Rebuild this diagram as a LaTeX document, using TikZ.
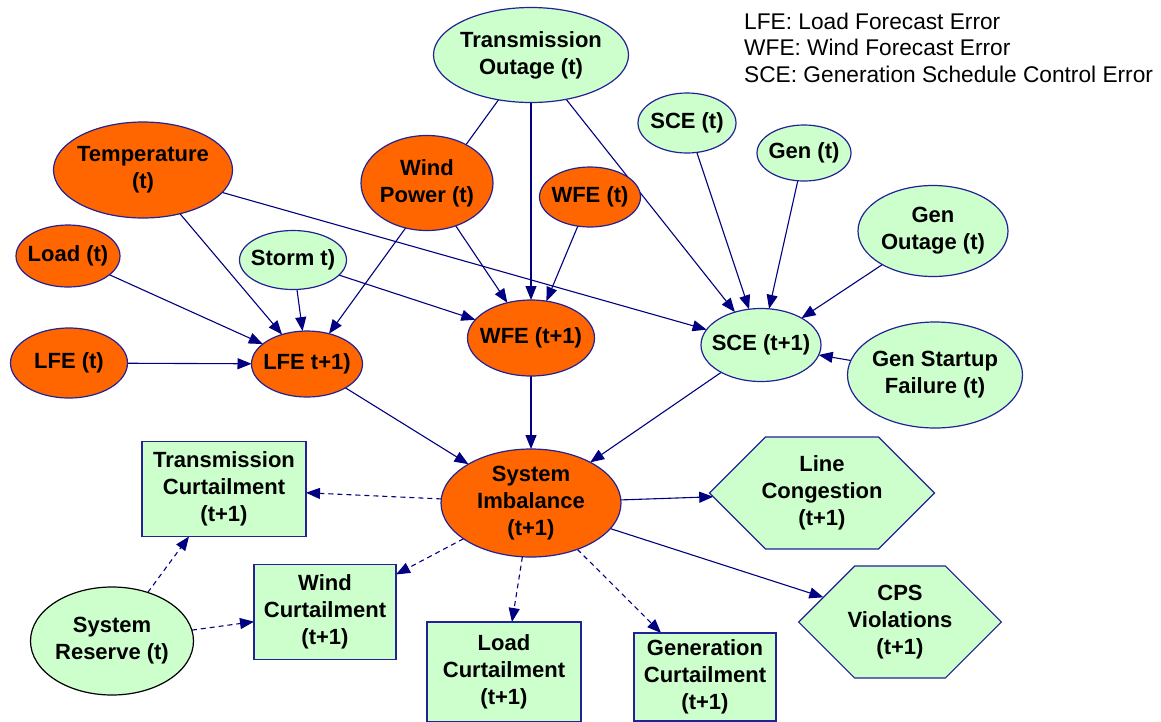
\documentclass[tikz,border=0pt]{standalone}
\usepackage{fontspec}
\setmainfont{Liberation Sans}
\usetikzlibrary{shapes.geometric,shapes.symbols,arrows.meta}
\definecolor{navyline}{RGB}{0,0,128}
\definecolor{nodeedge}{RGB}{34,34,150}
\definecolor{hotorange}{RGB}{255,102,0}
\definecolor{palegreen}{RGB}{204,255,204}
\pgfdeclarelayer{paper}
\pgfdeclarelayer{wires}
\pgfsetlayers{paper,wires,main}
\tikzset{
  lbl/.style={font=\fontsize{22}{27}\selectfont\bfseries, align=center, text=black},
  oval/.style={lbl, ellipse, draw=nodeedge, line width=1.2pt, inner xsep=-12pt, inner ysep=-12pt, outer sep=0pt},
  hot/.style={oval, fill=hotorange},
  cool/.style={oval, fill=palegreen},
  actbox/.style={lbl, rectangle, draw=nodeedge, line width=1.2pt, fill=palegreen, inner sep=0pt, outer sep=0pt},
  hexbox/.style={lbl, signal, signal to=east and west, signal pointer angle=90, draw=nodeedge, line width=1.2pt, fill=palegreen, inner ysep=0pt, outer sep=0pt},
  link/.style={draw=navyline, line width=1.1pt, -{Triangle[length=14pt,width=11pt]}},
  weak/.style={link, dash pattern=on 5pt off 4pt},
  legend/.style={font=\fontsize{22.7}{26}\selectfont, anchor=base west, inner sep=0pt},
}
\begin{document}
\begin{tikzpicture}[x=1pt, y=-1pt]
\begin{pgfonlayer}{paper}
  \fill[white] (0,0) rectangle (1161,721);
\end{pgfonlayer}
\useasboundingbox (0,0) rectangle (1161,721);

% causes at time t
\node[cool, minimum width=195pt, minimum height=95pt] (to) at (531,55) {Transmission\\Outage (t)};
\node[hot, minimum width=179pt, minimum height=96pt] (temp) at (143,170) {Temperature\\(t)};
\node[hot, minimum width=132pt, minimum height=95pt] (wp) at (427,183) {Wind\\Power (t)};
\node[hot, minimum width=101pt, minimum height=60pt] (wfe0) at (590,197) {WFE (t)};
\node[cool, minimum width=98pt, minimum height=60pt] (sce0) at (687,123) {SCE (t)};
\node[cool, minimum width=94pt, minimum height=56pt] (gen) at (804,153) {Gen (t)};
\node[cool, minimum width=150pt, minimum height=91pt] (genout) at (933,231) {Gen\\Outage (t)};
\node[hot, minimum width=104pt, minimum height=62pt] (load) at (68,256) {Load (t)};
\node[cool, minimum width=107pt, minimum height=59pt] (storm) at (293,260) {Storm t)};
\node[hot, minimum width=117pt, minimum height=70pt] (lfe0) at (69,363) {LFE (t)};
\node[cool, minimum width=175pt, minimum height=106pt] (gsf) at (935,375) {Gen Startup\\Failure (t)};
\node[cool, draw=black, minimum width=163pt, minimum height=108pt] (sysres) at (112,641) {System\\Reserve (t)};

% errors at time t+1
\node[hot, minimum width=111pt, minimum height=66pt] (lfe1) at (307,364) {LFE t+1)};
\node[hot, minimum width=127pt, minimum height=76pt] (wfe1) at (531,338) {WFE (t+1)};
\node[cool, minimum width=120pt, minimum height=73pt] (sce1) at (761,345) {SCE (t+1)};
\node[hot, minimum width=180pt, minimum height=108pt] (imb) at (531,503) {System\\Imbalance\\(t+1)};

% actions and consequences
\node[actbox, minimum width=164pt, minimum height=95pt] (transc) at (224,489) {Transmission\\Curtailment\\(t+1)};
\node[actbox, minimum width=142pt, minimum height=95pt] (windc) at (325,612) {Wind\\Curtailment\\(t+1)};
\node[actbox, minimum width=154pt, minimum height=100pt] (loadc) at (504,672) {Load\\Curtailment\\(t+1)};
\node[actbox, minimum width=142pt, minimum height=88pt] (genc) at (705,677) {Generation\\Curtailment\\(t+1)};
\node[hexbox, inner xsep=-4pt, minimum height=112pt] (linec) at (822,493) {Line\\Congestion\\(t+1)};
\node[hexbox, inner xsep=-7pt, minimum height=112pt] (cps) at (900,622) {CPS\\Violations\\(t+1)};

% abbreviations
\node[legend] (legA) at (744,29) {LFE: Load Forecast Error};
\node[legend] (legB) at (744,55) {WFE: Wind Forecast Error};
\node[legend] (legC) at (744,82) {SCE: Generation Schedule Control Error};

\begin{pgfonlayer}{wires}
  \draw[link] (temp) -- (lfe1);
  \draw[link] (temp) -- (sce1);
  \draw[link] (load) -- (lfe1);
  \draw[link] (storm) -- (lfe1);
  \draw[link] (storm) -- (wfe1);
  \draw[link] (lfe0) -- (lfe1);
  \draw[link] (to) -- (lfe1);
  \draw[link] (wp) -- (wfe1);
  \draw[link] (to) -- (wfe1);
  \draw[link] (wfe0) -- (wfe1);
  \draw[link] (to) -- (sce1);
  \draw[link] (sce0) -- (sce1);
  \draw[link] (gen) -- (sce1);
  \draw[link] (genout) -- (sce1);
  \draw[link] (gsf) -- (sce1);
  \draw[link] (lfe1) -- (imb);
  \draw[link] (wfe1) -- (imb);
  \draw[link] (sce1) -- (imb);
  \draw[link] (imb) -- (linec);
  \draw[link] (imb) -- (cps);
  \draw[weak] (imb) -- (transc);
  \draw[weak] (imb) -- (windc);
  \draw[weak] (imb) -- (loadc);
  \draw[weak] (imb) -- (genc);
  \draw[weak] (sysres) -- (transc);
  \draw[weak] (sysres) -- (windc);
\end{pgfonlayer}
\end{tikzpicture}
\end{document}
